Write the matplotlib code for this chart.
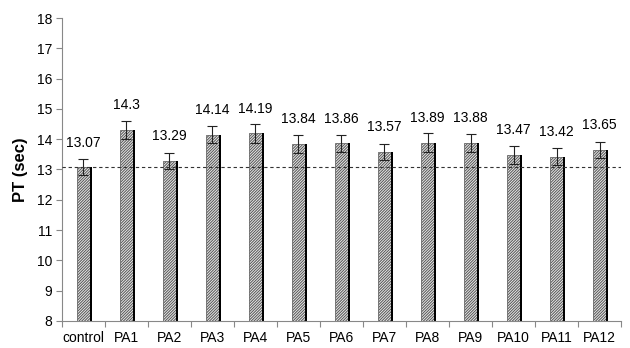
import matplotlib
matplotlib.use("Agg")
import matplotlib.pyplot as plt
import numpy as np

plt.rcParams['font.family'] = ['Liberation Sans', 'DejaVu Sans']
plt.rcParams['hatch.linewidth'] = 0.7
plt.rcParams['hatch.color'] = '#333333'

# data
groups = ['control', 'PA1', 'PA2', 'PA3', 'PA4', 'PA5', 'PA6',
          'PA7', 'PA8', 'PA9', 'PA10', 'PA11', 'PA12']
pt_means = [13.07, 14.3, 13.29, 14.14, 14.19, 13.84, 13.86,
            13.57, 13.89, 13.88, 13.47, 13.42, 13.65]
pt_errors = [0.26, 0.30, 0.26, 0.28, 0.30, 0.29, 0.28,
             0.26, 0.30, 0.29, 0.30, 0.28, 0.27]


def main():
    fig = plt.figure(figsize=(6.3, 3.48), dpi=100)
    ax = fig.add_axes([0.098, 0.078, 0.888, 0.870])

    x = np.arange(len(groups))
    w = 0.31
    # hatched bars
    ax.bar(x, pt_means, width=w, color='#e8e8e8', edgecolor='#555555',
           hatch='/' * 12, linewidth=0.5, zorder=2)
    # black shadow on the right side of each bar
    ax.bar(x + w / 2 + 0.02, pt_means, width=0.045, color='black', zorder=2)
    ax.errorbar(x, pt_means, yerr=pt_errors, fmt='none', ecolor='#222222',
                elinewidth=0.8, capsize=3.5, capthick=0.8, zorder=3)

    # dashed reference line at control level
    ax.axhline(pt_means[0], color='#333333', linestyle=(0, (3, 2.5)),
               linewidth=0.8, zorder=4)

    for xi, m in zip(x, pt_means):
        ax.text(xi, m + 0.82, f'{m:g}', ha='center', va='center', fontsize=10)

    ax.set_xlim(-0.5, len(groups) - 0.5)
    ax.set_ylim(8, 18)
    ax.set_yticks(range(8, 19))
    ax.set_xticks(np.arange(-0.5, len(groups), 1.0))
    ax.set_xticklabels([])
    ax.set_xticks(x, minor=True)
    ax.set_xticklabels(groups, minor=True, fontsize=10)
    ax.tick_params(axis='x', which='minor', length=0, pad=7)
    ax.tick_params(axis='x', which='major', length=4, color='#888888')
    ax.tick_params(axis='y', length=4, color='#888888', labelsize=10, pad=3)
    ax.set_ylabel('PT (sec)', fontsize=12, fontweight='bold', labelpad=6)

    for side in ['top', 'right']:
        ax.spines[side].set_visible(False)
    for side in ['left', 'bottom']:
        ax.spines[side].set_color('#888888')
        ax.spines[side].set_linewidth(0.8)

    fig.savefig('out.png', dpi=100)


if __name__ == "__main__":
    main()
